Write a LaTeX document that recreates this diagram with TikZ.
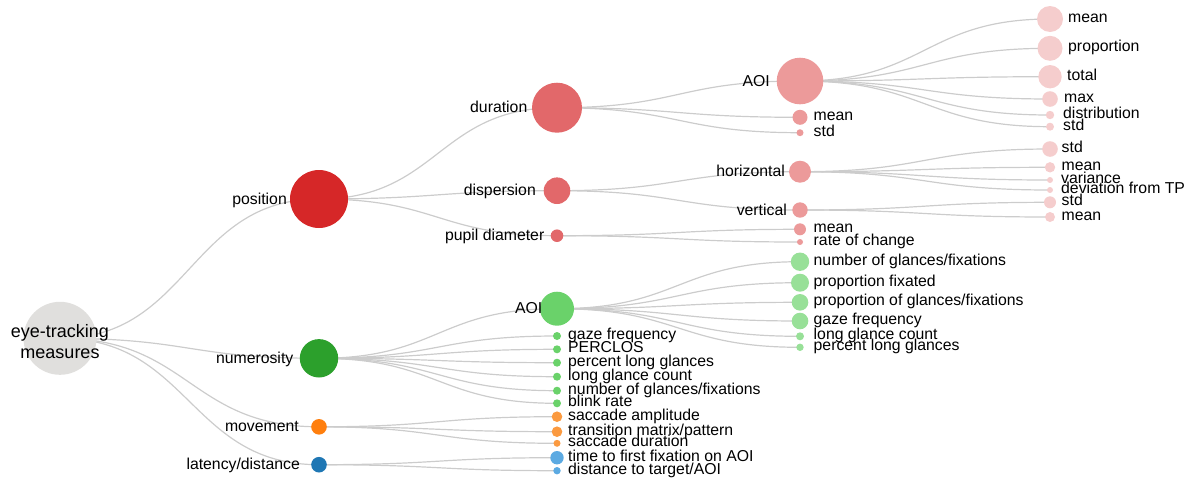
\documentclass[tikz,border=0pt]{standalone}
\usepackage{fontspec}
\setmainfont{Liberation Sans}
\usepackage{xcolor}
\usetikzlibrary{calc,backgrounds}

\definecolor{rootgray}{HTML}{E0DFDD}
\definecolor{red1}{HTML}{D62728}
\definecolor{red2}{HTML}{E2686A}
\definecolor{red3}{HTML}{EC9A9A}
\definecolor{red4}{HTML}{F5CDCD}
\definecolor{green1}{HTML}{2CA02C}
\definecolor{green2}{HTML}{6AD26A}
\definecolor{green3}{HTML}{98E098}
\definecolor{orange1}{HTML}{FF7F0E}
\definecolor{orange2}{HTML}{FB9A40}
\definecolor{blue1}{HTML}{1F77B4}
\definecolor{blue2}{HTML}{5CAAE2}
\definecolor{linkgray}{HTML}{CCCCCC}

\begin{document}
\begin{tikzpicture}[x=1pt, y=-1pt,
        dot/.style={circle, inner sep=0pt, minimum size=2*#1},
        lbl/.style={font=\fontsize{15.8}{17}\selectfont, inner sep=0pt},
        rl/.style={lbl, anchor=base west, xshift=#1, yshift=-3.5pt},
        ll/.style={lbl, anchor=base east, xshift=-#1, yshift=-5pt},
        link/.style={draw=linkgray, line width=1.2pt}]

        \useasboundingbox (0,0) rectangle (1191,480);

        \node [dot=36.5pt, fill=rootgray] (root) at (60,338.3) {};
        \node [lbl, font=\fontsize{18}{21}\selectfont, align=center, yshift=-3pt] (root-t) at (root) {eye-tracking\\measures};

        \node [dot=29pt, fill=red1] (pos) at (319,199) {};
        \node [ll=32pt] (pos-t) at (pos) {position};
        \node [dot=19.2pt, fill=green1] (num) at (319,358.3) {};
        \node [ll=25.5pt] (num-t) at (num) {numerosity};
        \node [dot=7.8pt, fill=orange1] (mov) at (319,426.8) {};
        \node [ll=20pt] (mov-t) at (mov) {movement};
        \node [dot=7.8pt, fill=blue1] (lat) at (319,464.7) {};
        \node [ll=19pt] (lat-t) at (lat) {latency/distance};

        \node [dot=25pt, fill=red2] (dur) at (557,107.7) {};
        \node [ll=29.5pt] (dur-t) at (dur) {duration};
        \node [dot=13.3pt, fill=red2] (disp) at (557,190.7) {};
        \node [ll=21pt] (disp-t) at (disp) {dispersion};
        \node [dot=6.3pt, fill=red2] (pupil) at (557,235.7) {};
        \node [ll=12.5pt] (pupil-t) at (pupil) {pupil diameter};
        \node [dot=17pt, fill=green2] (naoi) at (557,308.7) {};
        \node [ll=14.5pt] (naoi-t) at (naoi) {AOI};
        \node [dot=4pt, fill=green2] (ngaze) at (557,336) {};
        \node [rl=11pt] (ngaze-t) at (ngaze) {gaze frequency};
        \node [dot=4pt, fill=green2] (nperc) at (557,349.3) {};
        \node [rl=11pt] (nperc-t) at (nperc) {PERCLOS};
        \node [dot=4pt, fill=green2] (npct) at (557,362.7) {};
        \node [rl=11pt] (npct-t) at (npct) {percent long glances};
        \node [dot=4pt, fill=green2] (nlong) at (557,376.7) {};
        \node [rl=11pt] (nlong-t) at (nlong) {long glance count};
        \node [dot=4pt, fill=green2] (nnum) at (557,390.7) {};
        \node [rl=11pt] (nnum-t) at (nnum) {number of glances/fixations};
        \node [dot=4pt, fill=green2] (nblink) at (557,403.3) {};
        \node [rl=11pt] (nblink-t) at (nblink) {blink rate};
        \node [dot=5.3pt, fill=orange2] (mamp) at (557,416.7) {};
        \node [rl=11pt] (mamp-t) at (mamp) {saccade amplitude};
        \node [dot=5.3pt, fill=orange2] (mtrans) at (557,431.7) {};
        \node [rl=11pt] (mtrans-t) at (mtrans) {transition matrix/pattern};
        \node [dot=3.5pt, fill=orange2] (mdur) at (557,443.3) {};
        \node [rl=11pt] (mdur-t) at (mdur) {saccade duration};
        \node [dot=6.7pt, fill=blue2] (lfirst) at (557,457.7) {};
        \node [rl=11pt] (lfirst-t) at (lfirst) {time to first fixation on AOI};
        \node [dot=3.7pt, fill=blue2] (ldist) at (557,470.7) {};
        \node [rl=11pt] (ldist-t) at (ldist) {distance to target/AOI};

        \node [dot=23.3pt, fill=red3] (daoi) at (800,81) {};
        \node [ll=30pt] (daoi-t) at (daoi) {AOI};
        \node [dot=7.5pt, fill=red3] (dmean) at (800,117.3) {};
        \node [rl=13.5pt] (dmean-t) at (dmean) {mean};
        \node [dot=3.5pt, fill=red3] (dstd) at (800,132.7) {};
        \node [rl=13.5pt] (dstd-t) at (dstd) {std};
        \node [dot=11pt, fill=red3] (hor) at (800,171.7) {};
        \node [ll=15pt] (hor-t) at (hor) {horizontal};
        \node [dot=7.7pt, fill=red3] (ver) at (800,210) {};
        \node [ll=13pt] (ver-t) at (ver) {vertical};
        \node [dot=6pt, fill=red3] (pmean) at (800,229.3) {};
        \node [rl=13.5pt] (pmean-t) at (pmean) {mean};
        \node [dot=3pt, fill=red3] (prate) at (800,242) {};
        \node [rl=13.5pt] (prate-t) at (prate) {rate of change};
        \node [dot=9.2pt, fill=green3] (anum) at (800,261.7) {};
        \node [rl=13.5pt] (anum-t) at (anum) {number of glances/fixations};
        \node [dot=9pt, fill=green3] (aprop) at (800,282.7) {};
        \node [rl=13.5pt] (aprop-t) at (aprop) {proportion fixated};
        \node [dot=8.3pt, fill=green3] (apglance) at (800,302.3) {};
        \node [rl=13.5pt] (apglance-t) at (apglance) {proportion of glances/fixations};
        \node [dot=8.3pt, fill=green3] (agaze) at (800,321) {};
        \node [rl=13.5pt] (agaze-t) at (agaze) {gaze frequency};
        \node [dot=4pt, fill=green3] (along) at (800,336.3) {};
        \node [rl=13.5pt] (along-t) at (along) {long glance count};
        \node [dot=3.7pt, fill=green3] (apct) at (800,347.3) {};
        \node [rl=13.5pt] (apct-t) at (apct) {percent long glances};

        \node [dot=13pt, fill=red4] (tmean) at (1050,19) {};
        \node [rl=18pt] (tmean-t) at (tmean) {mean};
        \node [dot=12.5pt, fill=red4] (tprop) at (1050,48.3) {};
        \node [rl=18pt] (tprop-t) at (tprop) {proportion};
        \node [dot=11.7pt, fill=red4] (ttotal) at (1050,76.7) {};
        \node [rl=17pt] (ttotal-t) at (ttotal) {total};
        \node [dot=7.8pt, fill=red4] (tmax) at (1050,99) {};
        \node [rl=14pt] (tmax-t) at (tmax) {max};
        \node [dot=4.2pt, fill=red4] (tdist) at (1050,115) {};
        \node [rl=13pt] (tdist-t) at (tdist) {distribution};
        \node [dot=4pt, fill=red4] (tstd) at (1050,126.7) {};
        \node [rl=13pt] (tstd-t) at (tstd) {std};
        \node [dot=7.8pt, fill=red4] (hstd) at (1050,149) {};
        \node [rl=11.5pt] (hstd-t) at (hstd) {std};
        \node [dot=5.2pt, fill=red4] (hmean) at (1050,167.3) {};
        \node [rl=11.5pt] (hmean-t) at (hmean) {mean};
        \node [dot=3pt, fill=red4] (hvar) at (1050,180) {};
        \node [rl=11pt] (hvar-t) at (hvar) {variance};
        \node [dot=3pt, fill=red4] (hdev) at (1050,190) {};
        \node [rl=11pt] (hdev-t) at (hdev) {deviation from TP};
        \node [dot=6pt, fill=red4] (vstd) at (1050,202.3) {};
        \node [rl=11.5pt] (vstd-t) at (vstd) {std};
        \node [dot=5pt, fill=red4] (vmean) at (1050,217) {};
        \node [rl=11.5pt] (vmean-t) at (vmean) {mean};

        \begin{scope}[on background layer]
            \foreach \a/\b in {root/pos, root/num, root/mov, root/lat,
                    pos/dur, pos/disp, pos/pupil,
                    num/naoi, num/ngaze, num/nperc, num/npct, num/nlong, num/nnum, num/nblink,
                    mov/mamp, mov/mtrans, mov/mdur, lat/lfirst, lat/ldist,
                    dur/daoi, dur/dmean, dur/dstd, disp/hor, disp/ver, pupil/pmean, pupil/prate,
                    naoi/anum, naoi/aprop, naoi/apglance, naoi/agaze, naoi/along, naoi/apct,
                    daoi/tmean, daoi/tprop, daoi/ttotal, daoi/tmax, daoi/tdist, daoi/tstd,
                    hor/hstd, hor/hmean, hor/hvar, hor/hdev, ver/vstd, ver/vmean}
                \draw[link] let \p1=(\a), \p2=(\b) in
                    (\p1) .. controls ({(\x1+\x2)/2},\y1) and ({(\x1+\x2)/2},\y2) .. (\p2);
        \end{scope}
    \end{tikzpicture}
\end{document}
